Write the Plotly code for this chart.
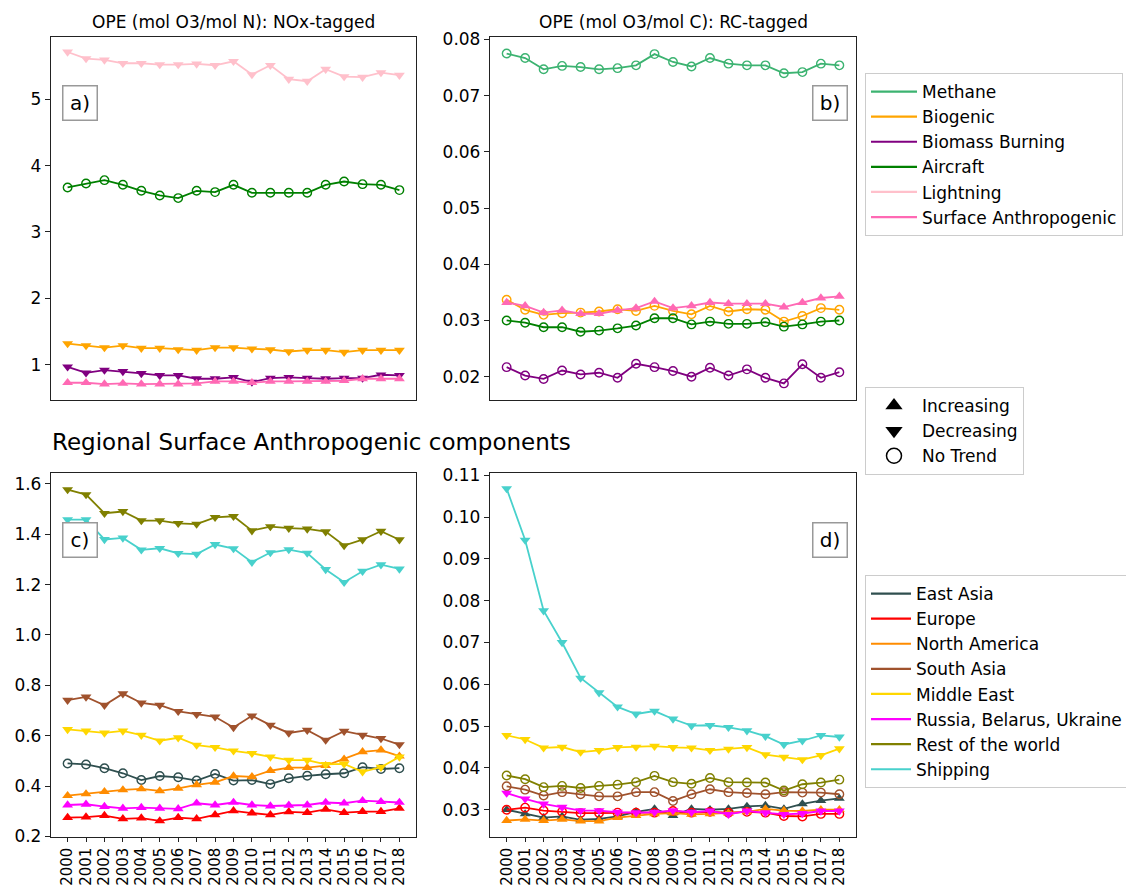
import plotly.graph_objects as go

years = list(range(2000, 2019))
year_labels = [str(y) for y in years]

# ---- OPE (mol O3 / mol N), NOx-tagged sources ----
nox_biogenic = [1.32, 1.29, 1.26, 1.29, 1.25, 1.25, 1.23, 1.22, 1.26, 1.26, 1.24, 1.23, 1.20, 1.22, 1.22, 1.19, 1.22, 1.22, 1.22]
nox_biomass = [0.97, 0.88, 0.92, 0.90, 0.87, 0.84, 0.84, 0.79, 0.79, 0.81, 0.74, 0.80, 0.81, 0.80, 0.79, 0.80, 0.80, 0.85, 0.84]
nox_aircraft = [3.67, 3.73, 3.78, 3.71, 3.62, 3.55, 3.51, 3.62, 3.60, 3.71, 3.59, 3.59, 3.59, 3.59, 3.71, 3.76, 3.72, 3.71, 3.63]
nox_lightning = [5.71, 5.61, 5.59, 5.54, 5.54, 5.52, 5.52, 5.53, 5.51, 5.57, 5.37, 5.51, 5.30, 5.27, 5.45, 5.34, 5.33, 5.40, 5.36]
nox_surface = [0.73, 0.73, 0.71, 0.72, 0.71, 0.71, 0.71, 0.72, 0.75, 0.75, 0.73, 0.75, 0.75, 0.75, 0.75, 0.76, 0.79, 0.79, 0.79]

# ---- OPE (mol O3 / mol C), RC-tagged sources ----
rc_methane = [0.0775, 0.0767, 0.0747, 0.0753, 0.0751, 0.0747, 0.0749, 0.0754, 0.0774, 0.0760, 0.0752, 0.0767, 0.0757, 0.0754, 0.0754, 0.0740, 0.0742, 0.0757, 0.0754]
rc_biogenic = [0.0337, 0.0319, 0.0310, 0.0313, 0.0314, 0.0316, 0.0320, 0.0317, 0.0326, 0.0317, 0.0311, 0.0326, 0.0316, 0.0320, 0.0319, 0.0298, 0.0308, 0.0322, 0.0319]
rc_biomass = [0.0217, 0.0202, 0.0196, 0.0211, 0.0204, 0.0207, 0.0198, 0.0223, 0.0217, 0.0210, 0.0200, 0.0216, 0.0202, 0.0213, 0.0198, 0.0188, 0.0222, 0.0198, 0.0208]
rc_aircraft = [0.0300, 0.0296, 0.0288, 0.0288, 0.0280, 0.0282, 0.0286, 0.0291, 0.0304, 0.0304, 0.0293, 0.0298, 0.0294, 0.0294, 0.0297, 0.0289, 0.0293, 0.0298, 0.0300]
rc_surface = [0.0332, 0.0326, 0.0314, 0.0318, 0.0312, 0.0312, 0.0318, 0.0322, 0.0334, 0.0322, 0.0326, 0.0332, 0.0330, 0.0330, 0.0330, 0.0324, 0.0332, 0.0340, 0.0343]

# ---- Regional surface anthropogenic, NOx-tagged ----
c_east_asia = [0.490, 0.486, 0.471, 0.451, 0.424, 0.440, 0.435, 0.422, 0.448, 0.422, 0.424, 0.408, 0.431, 0.441, 0.447, 0.451, 0.475, 0.468, 0.471]
c_europe = [0.275, 0.277, 0.283, 0.270, 0.273, 0.262, 0.275, 0.270, 0.286, 0.302, 0.293, 0.286, 0.298, 0.295, 0.308, 0.295, 0.299, 0.299, 0.312]
c_north_america = [0.362, 0.369, 0.378, 0.385, 0.389, 0.381, 0.391, 0.405, 0.415, 0.440, 0.437, 0.461, 0.473, 0.473, 0.481, 0.507, 0.536, 0.543, 0.519]
c_south_asia = [0.741, 0.754, 0.721, 0.767, 0.730, 0.721, 0.697, 0.685, 0.675, 0.633, 0.679, 0.642, 0.611, 0.622, 0.583, 0.618, 0.602, 0.589, 0.565]
c_middle_east = [0.625, 0.619, 0.611, 0.619, 0.602, 0.580, 0.592, 0.563, 0.554, 0.540, 0.530, 0.516, 0.503, 0.503, 0.486, 0.488, 0.457, 0.475, 0.516]
c_russia = [0.325, 0.328, 0.319, 0.312, 0.315, 0.312, 0.310, 0.332, 0.325, 0.335, 0.325, 0.321, 0.324, 0.325, 0.335, 0.332, 0.342, 0.338, 0.335]
c_rest = [1.577, 1.557, 1.483, 1.490, 1.454, 1.454, 1.443, 1.440, 1.467, 1.471, 1.414, 1.430, 1.424, 1.421, 1.410, 1.355, 1.378, 1.412, 1.378]
c_shipping = [1.458, 1.458, 1.379, 1.385, 1.338, 1.344, 1.324, 1.321, 1.359, 1.343, 1.289, 1.327, 1.339, 1.325, 1.260, 1.209, 1.253, 1.279, 1.262]

# ---- Regional surface anthropogenic, RC-tagged ----
d_east_asia = [0.0300, 0.0290, 0.0281, 0.0284, 0.0276, 0.0278, 0.0284, 0.0295, 0.0302, 0.0286, 0.0302, 0.0300, 0.0302, 0.0308, 0.0310, 0.0302, 0.0314, 0.0322, 0.0327]
d_europe = [0.0300, 0.0305, 0.0298, 0.0295, 0.0292, 0.0292, 0.0293, 0.0293, 0.0293, 0.0297, 0.0293, 0.0295, 0.0293, 0.0295, 0.0293, 0.0285, 0.0284, 0.0290, 0.0290]
d_north_america = [0.0274, 0.0277, 0.0274, 0.0277, 0.0273, 0.0273, 0.0281, 0.0286, 0.0290, 0.0292, 0.0289, 0.0290, 0.0292, 0.0295, 0.0302, 0.0298, 0.0297, 0.0300, 0.0300]
d_south_asia = [0.0356, 0.0348, 0.0334, 0.0342, 0.0337, 0.0332, 0.0332, 0.0342, 0.0342, 0.0321, 0.0337, 0.0349, 0.0342, 0.0340, 0.0337, 0.0342, 0.0341, 0.0341, 0.0337]
d_middle_east = [0.0478, 0.0468, 0.0448, 0.0450, 0.0438, 0.0442, 0.0449, 0.0450, 0.0452, 0.0449, 0.0448, 0.0442, 0.0445, 0.0449, 0.0432, 0.0426, 0.0420, 0.0430, 0.0446]
d_russia = [0.0340, 0.0326, 0.0314, 0.0306, 0.0298, 0.0298, 0.0294, 0.0293, 0.0294, 0.0298, 0.0294, 0.0297, 0.0289, 0.0297, 0.0293, 0.0289, 0.0291, 0.0297, 0.0297]
d_rest = [0.0382, 0.0373, 0.0354, 0.0357, 0.0352, 0.0357, 0.0360, 0.0366, 0.0381, 0.0366, 0.0362, 0.0376, 0.0366, 0.0365, 0.0365, 0.0346, 0.0361, 0.0365, 0.0372]
d_shipping = [0.1068, 0.0945, 0.0776, 0.0700, 0.0615, 0.0580, 0.0546, 0.0529, 0.0536, 0.0517, 0.0501, 0.0502, 0.0497, 0.0489, 0.0476, 0.0456, 0.0465, 0.0478, 0.0474]

source_names = ["Methane", "Biogenic", "Biomass Burning", "Aircraft", "Lightning", "Surface Anthropogenic"]
region_names = ["East Asia", "Europe", "North America", "South Asia", "Middle East",
                "Russia, Belarus, Ukraine", "Rest of the world", "Shipping"]
trend_names = ["Increasing", "Decreasing", "No Trend"]

# (name, values, trend) per panel; trend: "inc", "dec" or "none"
panel_a = [("Biogenic", nox_biogenic, "dec"), ("Biomass Burning", nox_biomass, "dec"),
           ("Aircraft", nox_aircraft, "none"), ("Lightning", nox_lightning, "dec"),
           ("Surface Anthropogenic", nox_surface, "inc")]
panel_b = [("Methane", rc_methane, "none"), ("Biogenic", rc_biogenic, "none"),
           ("Biomass Burning", rc_biomass, "none"), ("Aircraft", rc_aircraft, "none"),
           ("Surface Anthropogenic", rc_surface, "inc")]
panel_c = [("East Asia", c_east_asia, "none"), ("Europe", c_europe, "inc"),
           ("North America", c_north_america, "inc"), ("South Asia", c_south_asia, "dec"),
           ("Middle East", c_middle_east, "dec"), ("Russia, Belarus, Ukraine", c_russia, "inc"),
           ("Rest of the world", c_rest, "dec"), ("Shipping", c_shipping, "dec")]
panel_d = [("East Asia", d_east_asia, "inc"), ("Europe", d_europe, "none"),
           ("North America", d_north_america, "inc"), ("South Asia", d_south_asia, "none"),
           ("Middle East", d_middle_east, "dec"), ("Russia, Belarus, Ukraine", d_russia, "dec"),
           ("Rest of the world", d_rest, "none"), ("Shipping", d_shipping, "dec")]

colors = {
    "Methane": "#3CB371", "Biogenic": "#FFA500", "Biomass Burning": "#800080",
    "Aircraft": "#008000", "Lightning": "#FFC0CB", "Surface Anthropogenic": "#FF69B4",
    "East Asia": "#2F4F4F", "Europe": "#FF0000", "North America": "#FF8C00",
    "South Asia": "#A0522D", "Middle East": "#FFD700", "Russia, Belarus, Ukraine": "#FF00FF",
    "Rest of the world": "#808000", "Shipping": "#48D1CC",
}
symbols = {"inc": "triangle-up", "dec": "triangle-down", "none": "circle-open"}

W, H = 1126, 885
FONT = "DejaVu Sans"
FS = 17


def px_x(v):
    return v / W


def px_y(v):
    return 1 - v / H


fig = go.Figure()


def add_panel(series, xa, ya):
    for name, vals, trend in series:
        sym = symbols[trend]
        col = colors[name]
        marker = dict(symbol=sym, color=col, size=9.5 if trend != "none" else 8.5,
                      line=dict(color=col, width=1.4 if trend == "none" else 0))
        fig.add_trace(go.Scatter(
            x=years, y=vals, mode="lines+markers", name=name,
            line=dict(color=col, width=1.8), marker=marker,
            xaxis=xa, yaxis=ya, showlegend=False))


add_panel(panel_a, "x", "y")
add_panel(panel_b, "x2", "y2")
add_panel(panel_c, "x3", "y3")
add_panel(panel_d, "x4", "y4")

# legend entries: sources, trend markers, regions
for name in source_names:
    fig.add_trace(go.Scatter(x=[None], y=[None], mode="lines", name=name,
                             line=dict(color=colors[name], width=2.2), legend="legend"))
for name, key in zip(trend_names, ["inc", "dec", "none"]):
    fig.add_trace(go.Scatter(x=[None], y=[None], mode="markers", name=name,
                             marker=dict(symbol=symbols[key], color="black", size=15,
                                         line=dict(color="black", width=1.5 if key == "none" else 0)),
                             legend="legend2"))
for name in region_names:
    fig.add_trace(go.Scatter(x=[None], y=[None], mode="lines", name=name,
                             line=dict(color=colors[name], width=2.2), legend="legend3"))

left_dom = [px_x(51), px_x(416)]
right_dom = [px_x(490), px_x(856)]
top_dom = [px_y(400), px_y(36.7)]
bot_dom = [px_y(836.5), px_y(472.7)]

frame = dict(showline=True, mirror=True, linecolor="#222222", linewidth=1.3,
             showgrid=False, zeroline=False)
tickfont = dict(family=FONT, size=FS, color="black")
xrange = [1999.1, 2018.9]

xa_top = dict(frame, range=xrange, showticklabels=False, ticks="")
xa_bot = dict(frame, range=xrange, tickmode="array", tickvals=years, ticktext=year_labels,
              tickangle=-90, ticks="outside", ticklen=4, tickwidth=1.2, tickcolor="#222222",
              tickfont=dict(family=FONT, size=15, color="black"))
ya_common = dict(frame, ticks="outside", ticklen=5, tickwidth=1.2, tickcolor="#222222",
                 tickfont=tickfont)

legend_common = dict(xanchor="left", yanchor="top", bordercolor="#cccccc", borderwidth=1,
                     bgcolor="white", itemwidth=46,
                     font=dict(family=FONT, size=FS, color="black"))

fig.update_layout(
    width=W, height=H,
    margin=dict(l=0, r=0, t=0, b=0, autoexpand=False),
    paper_bgcolor="white", plot_bgcolor="white",
    font=dict(family=FONT, size=FS, color="black"),
    xaxis=dict(xa_top, domain=left_dom, anchor="y"),
    yaxis=dict(ya_common, domain=top_dom, anchor="x", range=[0.47, 5.94],
               tickvals=[1, 2, 3, 4, 5]),
    xaxis2=dict(xa_top, domain=right_dom, anchor="y2"),
    yaxis2=dict(ya_common, domain=top_dom, anchor="x2", range=[0.01585, 0.0805],
                tickvals=[0.02, 0.03, 0.04, 0.05, 0.06, 0.07, 0.08], tickformat=".2f"),
    xaxis3=dict(xa_bot, domain=left_dom, anchor="y3"),
    yaxis3=dict(ya_common, domain=bot_dom, anchor="x3", range=[0.2, 1.644],
                tickvals=[0.2, 0.4, 0.6, 0.8, 1.0, 1.2, 1.4, 1.6], tickformat=".1f"),
    xaxis4=dict(xa_bot, domain=right_dom, anchor="y4"),
    yaxis4=dict(ya_common, domain=bot_dom, anchor="x4", range=[0.0236, 0.1106],
                tickvals=[0.03, 0.04, 0.05, 0.06, 0.07, 0.08, 0.09, 0.10, 0.11], tickformat=".2f"),
    legend=dict(legend_common, x=px_x(865), y=px_y(73)),
    legend2=dict(legend_common, x=px_x(865), y=px_y(387)),
    legend3=dict(legend_common, x=px_x(865), y=px_y(575), itemwidth=40),
)

annotations = [
    dict(text="OPE (mol O3/mol N): NOx-tagged", x=px_x(233.5), y=px_y(22),
         font=dict(size=FS)),
    dict(text="OPE (mol O3/mol C): RC-tagged", x=px_x(673), y=px_y(22),
         font=dict(size=FS)),
    dict(text="Regional Surface Anthropogenic components", x=px_x(50), y=px_y(442),
         xanchor="left", font=dict(size=23)),
]
for lab, cx, cy in [("a)", 80, 103), ("b)", 830, 103), ("c)", 80, 539.5), ("d)", 830, 540)]:
    annotations.append(dict(text=lab, x=px_x(cx), y=px_y(cy), width=31, height=31,
                            bordercolor="#999999", borderwidth=1.5, borderpad=1,
                            bgcolor="white", font=dict(size=20)))
for a in annotations:
    a.setdefault("xanchor", "center")
    a.update(xref="paper", yref="paper", yanchor="middle", showarrow=False)
    a["font"] = dict(family=FONT, color="black", **a["font"])
fig.update_layout(annotations=annotations)

fig.write_html("out.html")
